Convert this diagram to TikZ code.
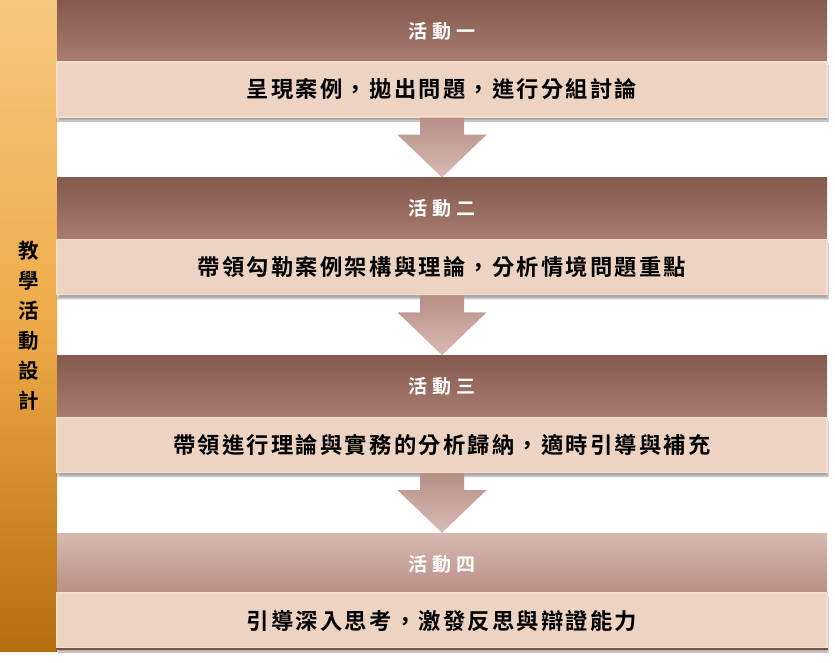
\documentclass[tikz,border=0pt]{standalone}
\usepackage{fontspec}
\usepackage{xcolor}
\usepackage{tikz}
\usetikzlibrary{calc,shadows.blur}
\newfontfamily\headfont[LetterSpace=25,BoldFont={Noto Sans CJK TC Bold}]{Noto Sans CJK TC}
\newfontfamily\bandfont[LetterSpace=10,BoldFont={Noto Sans CJK TC Bold}]{Noto Sans CJK TC}
\newfontfamily\sidefont[BoldFont={Noto Sans CJK TC Bold}]{Noto Sans CJK TC}
\definecolor{sidetop}{HTML}{F6C77F}
\definecolor{sidemid}{HTML}{EEAA48}
\definecolor{sidebot}{HTML}{B46E0E}
\definecolor{headtop}{HTML}{855A4E}
\definecolor{headbot}{HTML}{A87C70}
\definecolor{lasttop}{HTML}{D6B9B1}
\definecolor{lastbot}{HTML}{B98E83}
\definecolor{bandfill}{HTML}{EDD3C2}
\definecolor{bandedge}{HTML}{F7DDCB}
\definecolor{flowtop}{HTML}{B68F87}
\definecolor{flowbot}{HTML}{DABAB3}
\definecolor{rim}{HTML}{7E5244}
\tikzset{
  side/.style={minimum width=57pt, minimum height=650pt, inner sep=0pt,
    top color=sidetop, bottom color=sidebot, middle color=sidemid,
    align=center, font=\sidefont\bfseries\fontsize{20.5}{30}\selectfont},
  head/.style={minimum width=770pt, minimum height=62pt, inner sep=0pt,
    top color=headtop, bottom color=headbot, text=white,
    font=\headfont\bfseries\fontsize{19}{19}\selectfont},
  last/.style={head, top color=lasttop, bottom color=lastbot},
  band/.style={minimum width=770pt, minimum height=55pt, inner sep=0pt,
    fill=bandfill, draw=bandedge, line width=1.5pt, text=black,
    font=\bandfont\bfseries\fontsize{22.3}{22.3}\selectfont,
    blur shadow={shadow xshift=1pt, shadow yshift=-4pt, shadow blur steps=6, shadow opacity=35}},
  flow/.style={top color=flowtop, bottom color=flowbot}
}
\newcommand{\downflow}[2]{%
  \shade[flow] ($(#1.south)+(-22,0)$) -- ($(#1.south)+(-22,17)$)
    -- ($(#1.south)+(-44.5,17)$) -- (#2.north)
    -- ($(#1.south)+(44.5,17)$) -- ($(#1.south)+(22,17)$)
    -- ($(#1.south)+(22,0)$) -- cycle;}

\begin{document}
\begin{tikzpicture}[x=1pt,y=-1pt]
\useasboundingbox (0,0) rectangle (835,663);
\node[side] (side) at (28.5,326) {教\\學\\活\\動\\設\\計};
\node[head] (h1) at (442,31) {活動一};
\node[head] (h2) at (442,208.7) {活動二};
\node[head] (h3) at (442,386.3) {活動三};
\node[last] (h4) at (442,564) {活動四};
\node[band] (b1) at (442,89.5) {呈現案例，拋出問題，進行分組討論};
\node[band] (b2) at (442,267.2) {帶領勾勒案例架構與理論，分析情境問題重點};
\node[band] (b3) at (442,444.8) {帶領進行理論與實務的分析歸納，適時引導與補充};
\node[band] (b4) at (442,620.5) {引導深入思考，激發反思與辯證能力};
\draw[rim, line width=1.5pt] (b4.south west) -- (b4.south east);
\downflow{b1}{h2}
\downflow{b2}{h3}
\downflow{b3}{h4}
\end{tikzpicture}
\end{document}
